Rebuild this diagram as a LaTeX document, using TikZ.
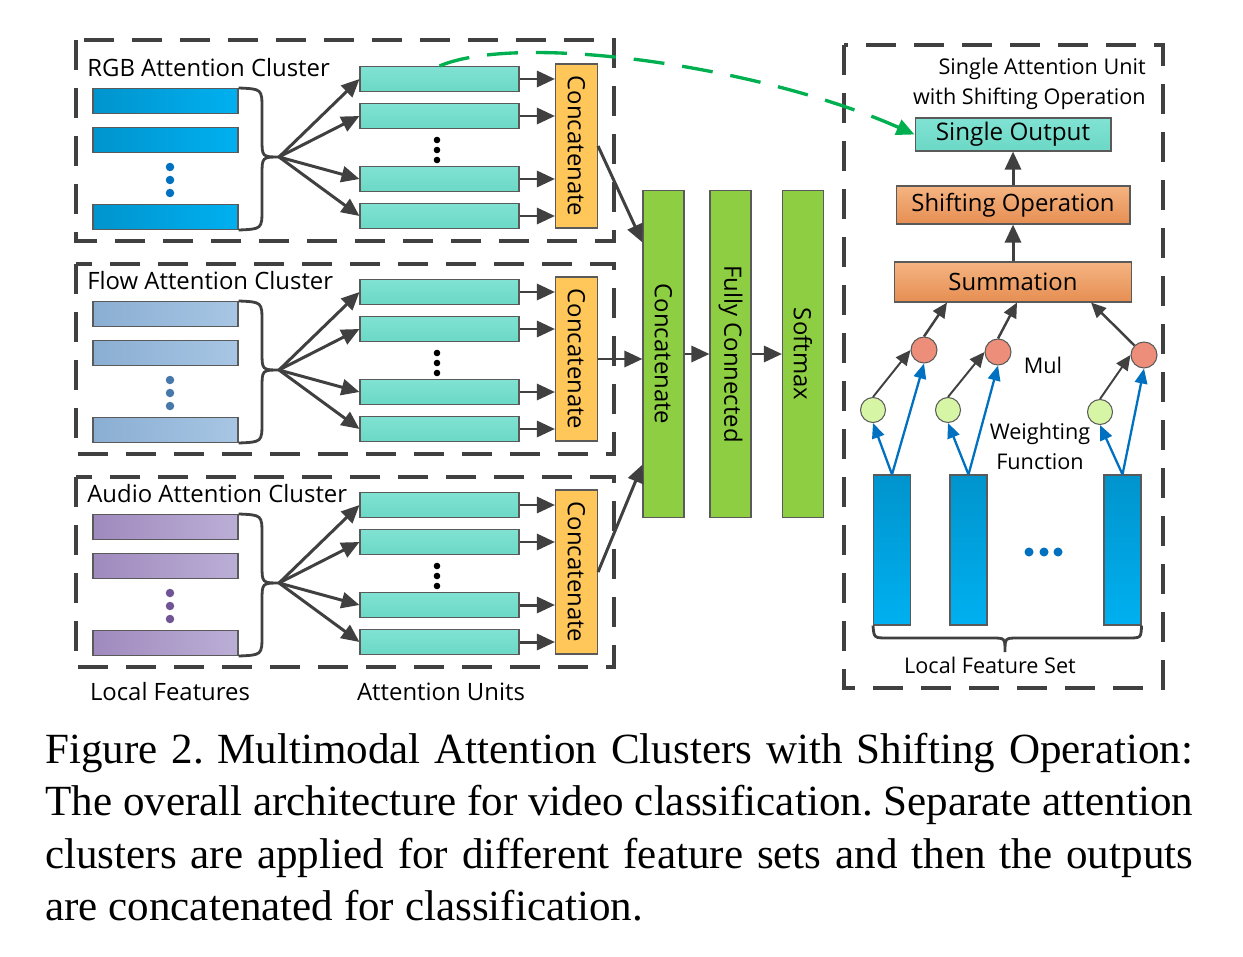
\documentclass[tikz,border=0pt]{standalone}
\usepackage{fontspec}
\setmainfont{Open Sans}
\newfontfamily\capfont{Liberation Serif}
\usetikzlibrary{arrows.meta,positioning}

\definecolor{dgray}{RGB}{64,64,64}
\definecolor{bgray}{RGB}{90,90,90}
\definecolor{rgbL}{RGB}{0,148,205}
\definecolor{rgbR}{RGB}{0,176,240}
\definecolor{flowL}{RGB}{138,174,210}
\definecolor{flowR}{RGB}{168,198,228}
\definecolor{audL}{RGB}{160,138,190}
\definecolor{audR}{RGB}{187,174,214}
\definecolor{rgbdot}{RGB}{0,112,192}
\definecolor{flowdot}{RGB}{70,120,170}
\definecolor{auddot}{RGB}{112,84,150}
\definecolor{unitT}{RGB}{128,226,210}
\definecolor{unitB}{RGB}{108,216,198}
\definecolor{catc}{RGB}{255,198,90}
\definecolor{greenc}{RGB}{141,206,66}
\definecolor{oranT}{RGB}{245,180,130}
\definecolor{oranB}{RGB}{230,142,82}
\definecolor{mulc}{RGB}{236,142,122}
\definecolor{wc}{RGB}{214,245,165}
\definecolor{blueln}{RGB}{0,112,192}
\definecolor{gdash}{RGB}{0,176,80}

\begin{document}
\begin{tikzpicture}[x=0.02cm, y=-0.02cm, font=\fontsize{13.6}{16}\selectfont,
    cluster/.style={draw=dgray, line width=1.9pt, dash pattern=on 0.6cm off 0.36cm},
    feat/.style={draw=bgray, line width=0.6pt, minimum width=2.9cm, minimum height=0.5cm, inner sep=0},
    rgbbar/.style={left color=rgbL, right color=rgbR},
    flowbar/.style={left color=flowL, right color=flowR},
    audiobar/.style={left color=audL, right color=audR},
    unit/.style={draw=bgray, line width=0.6pt, top color=unitT, bottom color=unitB, minimum width=3.18cm, minimum height=0.5cm, inner sep=0},
    catbox/.style={draw=bgray, line width=0.6pt, fill=catc, minimum width=0.84cm, minimum height=3.28cm, inner sep=0},
    gbox/.style={draw=bgray, line width=0.6pt, fill=greenc, minimum width=0.82cm, minimum height=6.56cm, inner sep=0},
    obox/.style={draw=bgray, line width=0.6pt, top color=oranT, bottom color=oranB, inner sep=0},
    setbar/.style={draw=bgray, line width=0.6pt, top color=rgbL, bottom color=rgbR, minimum width=0.74cm, minimum height=3cm, inner sep=0},
    mul/.style={circle, draw=bgray, line width=0.6pt, fill=mulc, minimum size=0.52cm, inner sep=0},
    wfun/.style={circle, draw=bgray, line width=0.6pt, fill=wc, minimum size=0.5cm, inner sep=0},
    brace/.style={draw=dgray, line width=1.6pt},
    arr/.style={draw=dgray, line width=1.7pt, -{Triangle[length=0.36cm,width=0.32cm]}},
    arrk/.style={draw=dgray, line width=1.4pt, -{Triangle[length=0.3cm,width=0.27cm]}},
    barr/.style={draw=blueln, line width=1.3pt, -{Triangle[length=0.3cm,width=0.25cm]}},
    garr/.style={draw=gdash, line width=1.9pt, dash pattern=on 0.62cm off 0.36cm, -{Triangle[length=0.36cm,width=0.32cm]}},
    small/.style={font=\fontsize{12.3}{16.5}\selectfont},
  ]
  \useasboundingbox (0,0) rectangle (1243,956);

  % three attention clusters
  \foreach \m/\tp/\nm/\fc/\lbl/\dc in {157/40/rgb/rgbbar/RGB/rgbdot, 370/264/flow/flowbar/Flow/flowdot, 583/477/audio/audiobar/Audio/auddot} {
    \draw[cluster] (76,\tp) rectangle (614,\m+84);
    \node[anchor=west, inner sep=0] (\nm-title) at (87,\m-89) {\lbl\ Attention Cluster};
    \node[feat,\fc] (\nm-f1) at (165.5,\m-56) {};
    \node[feat,\fc] (\nm-f2) at (165.5,\m-17) {};
    \node[feat,\fc] (\nm-f3) at (165.5,\m+60) {};
    \foreach \dd in {10,23,36} \fill[\dc] (170,\m+\dd) circle (0.085cm);
    \draw[brace] (\nm-f1.north east) .. controls (262,\m-68) .. (262,\m-48) -- (262,\m-18)
      .. controls (262,\m) .. (280,\m) .. controls (262,\m) .. (262,\m+18) -- (262,\m+52)
      .. controls (262,\m+72) .. (\nm-f3.south east);
    \coordinate (\nm-tip) at (279,\m);
    \node[unit] (\nm-u1) at (439.5,\m-78) {};
    \node[unit] (\nm-u2) at (439.5,\m-41) {};
    \node[unit] (\nm-u3) at (439.5,\m+22) {};
    \node[unit] (\nm-u4) at (439.5,\m+59) {};
    \foreach \dd in {-17,-7,3} \fill (437,\m+\dd) circle (0.066cm);
    \node[catbox] (\nm-cat) at (576.5,\m-11) {};
    \node[rotate=-90] (\nm-cattxt) at (\nm-cat) {Concatenate};
    \foreach \uu in {1,...,4} {
      \draw[arr] (\nm-tip) -- (\nm-u\uu.west);
      \draw[arr] (\nm-u\uu.east) -- (\nm-u\uu.east -| \nm-cat.west);
    }
  }
  \node (lf) at (170,692) {Local Features};
  \node (au) at (441,692) {Attention Units};

  % fusion
  \node[gbox] (cat) at (663.5,354) {};
  \node[rotate=-90] (cattxt) at (cat) {Concatenate};
  \node[gbox] (fc) at (730.5,354) {};
  \node[rotate=-90] (fctxt) at (fc) {Fully Connected};
  \node[gbox] (soft) at (803,354) {};
  \node[rotate=-90] (softtxt) at (soft) {Softmax};
  \draw[arr] (rgb-cat.east) -- ([yshift=-1.06cm]cat.north west);
  \draw[arr] (flow-cat.east) -- (flow-cat.east -| cat.west);
  \draw[arr] (audio-cat.east) -- ([yshift=1.08cm]cat.south west);
  \draw[arr] (cat.east) -- (fc.west);
  \draw[arr] (fc.east) -- (soft.west);

  % single attention unit
  \draw[cluster] (844,45) rectangle (1163,688);
  \node[small, anchor=base east, inner sep=0] (ut1) at (1146,75) {Single Attention Unit};
  \node[small, anchor=base east, inner sep=0] (ut2) at (1146,105) {with Shifting Operation};
  \node[draw=bgray, line width=0.6pt, top color=unitT, bottom color=unitB, minimum width=3.92cm, minimum height=0.66cm, inner sep=0, font=\fontsize{13.8}{16}\selectfont] (out) at (1013,134.5) {Single Output};
  \node[obox, minimum width=4.68cm, minimum height=0.76cm] (shift) at (1013,205) {Shifting Operation};
  \node[obox, minimum width=4.74cm, minimum height=0.8cm] (summ) at (1013,282) {Summation};
  \draw[arr] (summ.north) -- (shift.south);
  \draw[arr] (shift.north) -- (out.south);

  \node[mul] (m1) at (924,350) {};
  \node[mul] (m2) at (998,352) {};
  \node[mul] (m3) at (1144,355) {};
  \node[wfun] (w1) at (873,410) {};
  \node[wfun] (w2) at (948,410) {};
  \node[wfun] (w3) at (1100,412) {};
  \node[setbar] (b1) at (892,550) {};
  \node[setbar] (b2) at (968.5,550) {};
  \node[setbar] (b3) at (1122.5,550) {};

  \draw[arrk] (m1.north) -- ([xshift=1.06cm]summ.south west);
  \draw[arrk] (m2.north) -- ([xshift=0.08cm]summ.south);
  \draw[arrk] (m3.north west) -- ([xshift=-0.82cm]summ.south east);
  \draw[arrk, line width=1.1pt] (w1.north) -- (m1.west);
  \draw[arrk, line width=1.1pt] (w2.north) -- (m2.west);
  \draw[arrk, line width=1.1pt] (w3.north) -- (m3.west);
  \draw[barr] (b1.north) -- (w1.south);
  \draw[barr] (b1.north) -- (m1.south);
  \draw[barr] (b2.north) -- (w2.south);
  \draw[barr] (b2.north) -- (m2.south);
  \draw[barr] (b3.north) -- (w3.south);
  \draw[barr] (b3.north) -- (m3.south);

  \node[small] (mullbl) at (1043,365) {Mul};
  \node[small, align=center, font=\fontsize{12.3}{17}\selectfont] (wlbl) at (1040,446) {Weighting\\Function};
  \foreach \xx in {1029,1044,1058} \fill[rgbdot] (\xx,552) circle (0.09cm);
  \draw[brace] (b1.south west) .. controls (874,638) .. (888,638) -- (992,638)
    .. controls (1005,638) .. (1005,652) .. controls (1005,638) .. (1018,638) -- (1128,638)
    .. controls (1141,638) .. (b3.south east);
  \node[small] (lfs) at (990,665) {Local Feature Set};

  % link to the zoomed unit
  \draw[garr] (rgb-u1.north) .. controls (520,32) and (760,66) .. (out.west);

  % caption
  \node[anchor=base west, inner sep=0, text width=22.96cm, align=justify, font=\capfont] (caption) at (45,763)
    {\fontsize{24.5}{29.9}\selectfont\frenchspacing\hyphenpenalty10000
     Figure 2. Multimodal Attention Clusters with Shifting Operation:\linebreak
     The overall architecture for video classification. Separate attention\linebreak
     clusters are applied for different feature sets and then the outputs\linebreak
     are concatenated for classification.\par};
\end{tikzpicture}
\end{document}
